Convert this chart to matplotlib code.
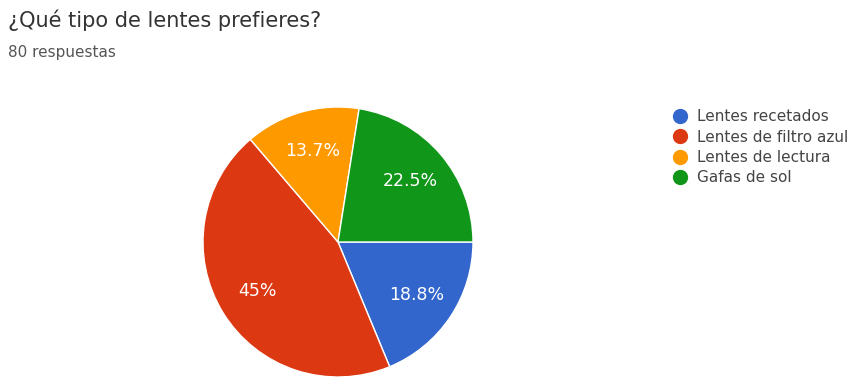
import matplotlib
matplotlib.use("Agg")
import numpy as np
import matplotlib.pyplot as plt
from matplotlib.lines import Line2D

plt.rcParams['font.family'] = ['DejaVu Sans']

# datos de la encuesta (80 respuestas)
categorias = ['Lentes recetados', 'Lentes de filtro azul', 'Lentes de lectura', 'Gafas de sol']
respuestas = [15, 36, 11, 18]
etiquetas = ['18.8%', '45%', '13.7%', '22.5%']
colores = ['#3366cc', '#dc3912', '#ff9900', '#109618']

fig = plt.figure(figsize=(8.58, 3.79), dpi=100)

# pie: centro ~ (338, 242) px, radio ~135 px
ax = fig.add_axes([(338 - 135) / 858, (379 - 242 - 135) / 379, 270 / 858, 270 / 379])
wedges, _ = ax.pie(respuestas, colors=colores, startangle=0, counterclock=False,
                   wedgeprops=dict(edgecolor='white', linewidth=1))
for w, txt in zip(wedges, etiquetas):
    mid = np.deg2rad((w.theta1 + w.theta2) / 2)
    ax.text(0.7 * np.cos(mid), 0.7 * np.sin(mid), txt, ha='center', va='center',
            color='white', fontsize=12.5)
ax.set_xlim(-1, 1)
ax.set_ylim(-1, 1)
ax.set_aspect('equal')
ax.axis('off')

fig.text(8 / 858, 1 - 20 / 379, '¿Qué tipo de lentes prefieres?', fontsize=15,
         color='#333333', va='center', ha='left')
fig.text(8 / 858, 1 - 52 / 379, '80 respuestas', fontsize=11,
         color='#555555', va='center', ha='left')

handles = [Line2D([], [], marker='o', linestyle='none', markersize=10,
                  markerfacecolor=c, markeredgecolor=c) for c in colores]
leg = fig.legend(handles, categorias, loc='upper left',
                 bbox_to_anchor=(672 / 858, 1 - 109 / 379), frameon=False,
                 fontsize=11, handlelength=1.0, handletextpad=0.65,
                 labelspacing=0.36, borderaxespad=0, borderpad=0)
for t in leg.get_texts():
    t.set_color('#444444')

fig.savefig('out.png', dpi=100, facecolor='white')
